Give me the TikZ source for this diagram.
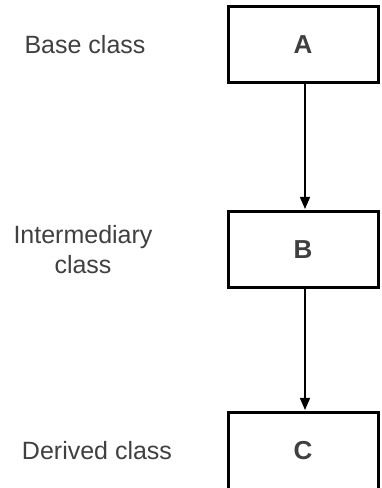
\documentclass[tikz,border=0pt]{standalone}
\usepackage{fontspec}
\setmainfont{Liberation Sans}
\usetikzlibrary{arrows.meta}
\definecolor{labelgray}{HTML}{404040}
\begin{document}
\begin{tikzpicture}[x=1pt,y=1pt,
  classbox/.style={draw=black,line width=3pt,fill=white,minimum width=150pt,minimum height=76pt,inner sep=0pt,
    font=\fontsize{26}{31}\selectfont\bfseries,text=labelgray},
  sidelabel/.style={font=\fontsize{25}{30}\selectfont,text=labelgray,align=center,inner sep=0pt},
  link/.style={line width=1.5pt,-{Triangle[length=12pt,width=10pt]}}]
\useasboundingbox (0,0) rectangle (381,488);
\clip (0,0) rectangle (381,488);
\fill[white] (0,0) rectangle (381,488);
\node[classbox] (A) at (303,443) {A};
\node[classbox] (B) at (303,238) {B};
\node[classbox] (C) at (303,37) {C};
\node[sidelabel] (la) at (85,443) {Base class};
\node[sidelabel] (lb) at (83,238) {Intermediary\\class};
\node[sidelabel] (lc) at (97,37) {Derived class};
\draw[link] ([xshift=2pt]A.south) -- ([xshift=2pt,yshift=1.5pt]B.north);
\draw[link] ([xshift=2pt]B.south) -- ([xshift=2pt,yshift=1.5pt]C.north);
\end{tikzpicture}
\end{document}
